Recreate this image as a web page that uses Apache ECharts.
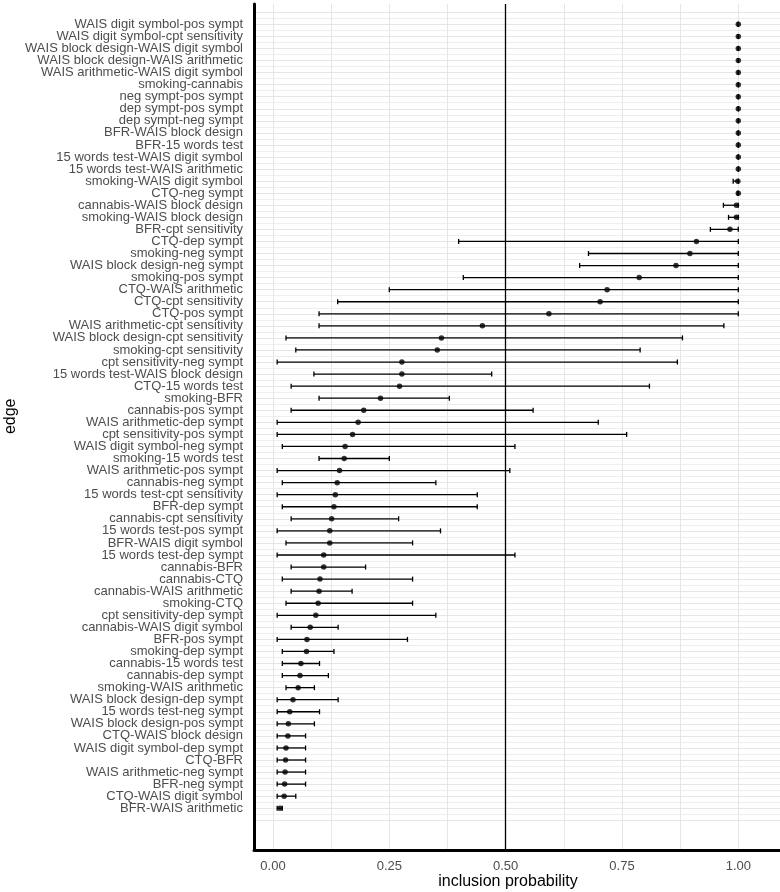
<!DOCTYPE html>
<html>
<head>
<meta charset="utf-8">
<script src="https://cdn.jsdelivr.net/npm/echarts@6/dist/echarts.min.js"></script>
<style>
    html, body { margin: 0; padding: 0; background: #fff; }
    #chart { width: 780px; height: 892px; }
</style>
</head>
<body>
<div id="chart"></div>
<script>
// edges, top to bottom
const edges = [
    'WAIS digit symbol-pos sympt', 'WAIS digit symbol-cpt sensitivity', 'WAIS block design-WAIS digit symbol',
    'WAIS block design-WAIS arithmetic', 'WAIS arithmetic-WAIS digit symbol', 'smoking-cannabis',
    'neg sympt-pos sympt', 'dep sympt-pos sympt', 'dep sympt-neg sympt', 'BFR-WAIS block design',
    'BFR-15 words test', '15 words test-WAIS digit symbol', '15 words test-WAIS arithmetic',
    'smoking-WAIS digit symbol', 'CTQ-neg sympt', 'cannabis-WAIS block design', 'smoking-WAIS block design',
    'BFR-cpt sensitivity', 'CTQ-dep sympt', 'smoking-neg sympt', 'WAIS block design-neg sympt',
    'smoking-pos sympt', 'CTQ-WAIS arithmetic', 'CTQ-cpt sensitivity', 'CTQ-pos sympt',
    'WAIS arithmetic-cpt sensitivity', 'WAIS block design-cpt sensitivity', 'smoking-cpt sensitivity',
    'cpt sensitivity-neg sympt', '15 words test-WAIS block design', 'CTQ-15 words test', 'smoking-BFR',
    'cannabis-pos sympt', 'WAIS arithmetic-dep sympt', 'cpt sensitivity-pos sympt',
    'WAIS digit symbol-neg sympt', 'smoking-15 words test', 'WAIS arithmetic-pos sympt',
    'cannabis-neg sympt', '15 words test-cpt sensitivity', 'BFR-dep sympt', 'cannabis-cpt sensitivity',
    '15 words test-pos sympt', 'BFR-WAIS digit symbol', '15 words test-dep sympt', 'cannabis-BFR',
    'cannabis-CTQ', 'cannabis-WAIS arithmetic', 'smoking-CTQ', 'cpt sensitivity-dep sympt',
    'cannabis-WAIS digit symbol', 'BFR-pos sympt', 'smoking-dep sympt', 'cannabis-15 words test',
    'cannabis-dep sympt', 'smoking-WAIS arithmetic', 'WAIS block design-dep sympt',
    '15 words test-neg sympt', 'WAIS block design-pos sympt', 'CTQ-WAIS block design',
    'WAIS digit symbol-dep sympt', 'CTQ-BFR', 'WAIS arithmetic-neg sympt', 'BFR-neg sympt',
    'CTQ-WAIS digit symbol', 'BFR-WAIS arithmetic'
];
const prob = [
    1.0, 1.0, 1.0, 1.0, 1.0, 1.0, 1.0, 1.0, 1.0, 1.0, 1.0, 1.0, 1.0, 0.999, 1.0, 0.996, 0.996, 0.982,
    0.910, 0.896, 0.866, 0.787, 0.718, 0.703, 0.593, 0.450, 0.362, 0.353, 0.277, 0.277, 0.272, 0.231,
    0.195, 0.183, 0.171, 0.155, 0.153, 0.143, 0.138, 0.134, 0.131, 0.126, 0.122, 0.122, 0.109, 0.109,
    0.101, 0.099, 0.097, 0.092, 0.080, 0.073, 0.072, 0.060, 0.058, 0.054, 0.043, 0.036, 0.033, 0.032,
    0.028, 0.027, 0.026, 0.025, 0.024, 0.015
];
const lower = [
    1.0, 1.0, 1.0, 1.0, 1.0, 1.0, 1.0, 1.0, 1.0, 1.0, 1.0, 1.0, 1.0, 0.989, 0.998, 0.968, 0.979, 0.940,
    0.399, 0.678, 0.659, 0.409, 0.250, 0.139, 0.099, 0.099, 0.028, 0.049, 0.009, 0.088, 0.039, 0.099,
    0.039, 0.009, 0.009, 0.020, 0.099, 0.009, 0.020, 0.009, 0.020, 0.039, 0.009, 0.028, 0.009, 0.039,
    0.020, 0.039, 0.028, 0.009, 0.039, 0.009, 0.020, 0.020, 0.020, 0.028, 0.009, 0.009, 0.009, 0.009,
    0.009, 0.009, 0.009, 0.009, 0.009, 0.009
];
const upper = [
    1.0, 1.0, 1.0, 1.0, 1.0, 1.0, 1.0, 1.0, 1.0, 1.0, 1.0, 1.0, 1.0, 1.0, 1.0, 1.0, 1.0, 1.0,
    1.0, 1.0, 1.0, 1.0, 1.0, 1.0, 1.0, 0.969, 0.880, 0.789, 0.869, 0.470, 0.809, 0.379,
    0.559, 0.699, 0.760, 0.520, 0.250, 0.509, 0.350, 0.439, 0.439, 0.270, 0.360, 0.300, 0.520, 0.199,
    0.300, 0.170, 0.300, 0.350, 0.140, 0.289, 0.131, 0.100, 0.119, 0.089, 0.140, 0.100, 0.089, 0.070,
    0.070, 0.070, 0.070, 0.070, 0.049, 0.020
];
const xTicks = [0, 0.25, 0.5, 0.75, 1];
const threshold = 0.5;

const xMin = -0.0408, xMax = 1.0896;
const gridColor = '#e6e6e6';
const font = "'Liberation Sans', Arial, sans-serif";

let myChart = echarts.init(document.getElementById('chart'));

const dotData = prob.map((p, i) => [p, i]);
const barData = prob.map((p, i) => [lower[i], upper[i], i]);

const option = {
    animation: false,
    grid: [
        // data panel (rows -1..66)
        {left: 254, right: 0, top: 12.3, bottom: 71.7, outerBoundsMode: 'none', containLabel: false},
        // outer frame: axis lines, vertical grid, x labels
        {left: 254, right: 0, top: 4, bottom: 42, outerBoundsMode: 'none', containLabel: false}
    ],
    xAxis: [
        {gridIndex: 0, type: 'value', min: xMin, max: xMax, show: false},
        {
            gridIndex: 1, type: 'value', min: xMin, max: xMax,
            minInterval: 0.125, maxInterval: 0.125,   // gridlines every 0.125
            name: 'inclusion probability',
            nameLocation: 'middle',
            nameGap: 24,
            nameMoveOverlap: false,
            nameTextStyle: {fontFamily: font, fontSize: 16, color: '#000', padding: [0, 18, 0, 0]},
            axisLine: {show: true, onZero: false, lineStyle: {color: '#000', width: 3}},
            axisTick: {show: false},
            axisLabel: {
                margin: 10,
                fontFamily: font, fontSize: 13, color: '#4d4d4d',
                formatter: v => xTicks.some(t => Math.abs(t - v) < 1e-6) ? v.toFixed(2) : ''
            },
            splitLine: {show: true, lineStyle: {color: gridColor, width: 1}}
        }
    ],
    yAxis: [
        {
            gridIndex: 0, type: 'value', min: -1, max: edges.length, interval: 1, inverse: true,
            name: 'edge',
            nameLocation: 'middle',
            nameGap: 235,
            nameRotate: 90,
            nameMoveOverlap: false,
            nameTextStyle: {fontFamily: font, fontSize: 16, color: '#000'},
            axisLine: {show: false, onZero: false},
            axisTick: {show: false},
            axisLabel: {
                margin: 11,
                fontFamily: font, fontSize: 13, color: '#4d4d4d',
                formatter: v => (v >= 0 && v < edges.length) ? edges[v] : ''
            },
            splitLine: {show: true, lineStyle: {color: gridColor, width: 1}},
            minorTick: {show: false, splitNumber: 2},
            minorSplitLine: {show: true, lineStyle: {color: '#eeeeee', width: 1}}
        },
        {
            gridIndex: 1, type: 'value', min: 0, max: 1,
            axisLine: {show: true, onZero: false, lineStyle: {color: '#000', width: 3}},
            axisTick: {show: false},
            axisLabel: {show: false},
            splitLine: {show: false}
        }
    ],
    series: [
        {
            // reference line at 0.5 across the whole frame
            type: 'scatter', xAxisIndex: 1, yAxisIndex: 1, data: [],
            markLine: {
                silent: true,
                symbol: ['none', 'none'],
                label: {show: false},
                lineStyle: {color: '#000', width: 1.3, type: 'solid'},
                data: [{xAxis: threshold}]
            }
        },
        {
            type: 'custom', xAxisIndex: 0, yAxisIndex: 0,
            data: barData,
            renderItem: function (params, api) {
                const a = api.coord([api.value(0), api.value(2)]);
                const b = api.coord([api.value(1), api.value(2)]);
                const h = 2.5;
                const style = {stroke: '#000', lineWidth: 1.3};
                return {
                    type: 'group',
                    children: [
                        {type: 'line', shape: {x1: a[0], y1: a[1], x2: b[0], y2: b[1]}, style: style},
                        {type: 'line', shape: {x1: a[0], y1: a[1] - h, x2: a[0], y2: a[1] + h}, style: style},
                        {type: 'line', shape: {x1: b[0], y1: b[1] - h, x2: b[0], y2: b[1] + h}, style: style}
                    ]
                };
            },
            z: 3
        },
        {
            type: 'scatter', xAxisIndex: 0, yAxisIndex: 0,
            data: dotData,
            symbol: 'circle',
            symbolSize: 5.5,
            itemStyle: {color: '#000'},
            z: 4
        }
    ]
};
myChart.setOption(option);
</script>
</body>
</html>
